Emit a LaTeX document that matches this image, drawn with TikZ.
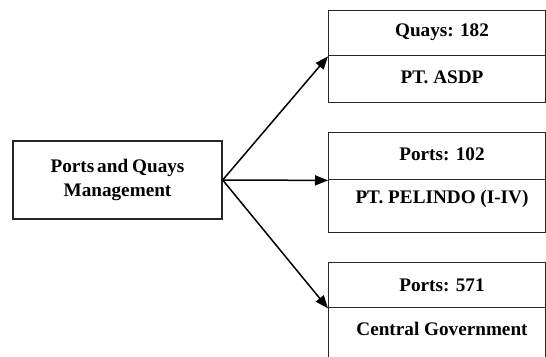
\documentclass[tikz,border=0pt]{standalone}
\usepackage{fontspec}
\setmainfont{Liberation Serif}
\usetikzlibrary{arrows.meta}
\begin{document}
\begin{tikzpicture}[x=1pt,y=-1pt,
  every node/.style={font=\fontsize{19.2}{24}\selectfont\bfseries},
  cell/.style={draw=black!85,line width=1.4pt,minimum width=217pt,inner sep=0pt,anchor=north west},
  lbl/.style={inner sep=0pt},
  conn/.style={line width=1.5pt,-{Triangle[length=13pt,width=10pt]}}]
\useasboundingbox (0,0) rectangle (546,356);
\clip (0,0) rectangle (546,356);
\node[draw=black!85,line width=1.4pt,minimum width=209pt,minimum height=78pt,inner sep=0pt,align=center] (mgmt) at (117.5,180) {Ports\hspace{3pt}and\hspace{4pt}Quays\\Management};
% box 1
\node[cell,minimum height=45pt] (a1) at (328,10) {};
\node[cell,minimum height=47pt] (a2) at (328,55) {};
\node[lbl] (a1t) at (442,32) {Quays: 182};
\node[lbl] (a2t) at (442,77) {PT. ASDP};
% box 2
\node[cell,minimum height=47pt] (b1) at (328,132) {};
\node[cell,minimum height=53pt] (b2) at (328,179) {};
\node[lbl] (b1t) at (442,154) {Ports: 102};
\node[lbl] (b2t) at (442,199) {PT. PELINDO (I-IV)};
% box 3
\node[cell,minimum height=45pt] (c1) at (328,262) {};
\node[cell,minimum height=60pt] (c2) at (328,307) {};
\node[lbl] (c1t) at (442,285) {Ports: 571};
\node[lbl] (c2t) at (442,329) {Central Government};
% connectors
\draw[conn] (mgmt.east) -- (a1.south west);
\draw[conn] (mgmt.east) -- (b1.south west);
\draw[conn] (mgmt.east) -- (c1.south west);
\end{tikzpicture}
\end{document}
